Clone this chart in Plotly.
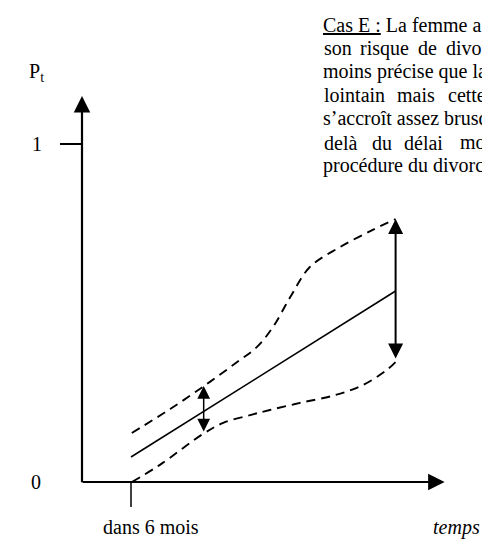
import plotly.graph_objects as go

# mois depuis aujourd'hui, probabilité de divorce P_t
mid_t = [6.0, 38.4]
mid_p = [0.074, 0.565]

up_t = [6.1, 10.8, 15.3, 19.0, 21.4, 23.4, 25.5, 27.9, 31.6, 35.6, 38.4]
up_p = [0.145, 0.216, 0.290, 0.355, 0.399, 0.459, 0.547, 0.636, 0.695, 0.746, 0.778]

low_t = [6.1, 9.5, 14.8, 17.3, 20.6, 23.0, 26.7, 31.0, 34.4, 37.3, 38.4]
low_p = [0.0, 0.050, 0.142, 0.175, 0.198, 0.213, 0.234, 0.257, 0.287, 0.331, 0.355]

# fourchettes d'incertitude (t, bas, haut)
small_band = (14.9, 0.145, 0.284)
big_band = (38.4, 0.361, 0.778)

text_lines = [
    ["<u>Cas E :</u> La femme a"],
    ["son", "risque", "de", "divorce"],
    ["moins précise que la"],
    ["lointain", "mais", "cette"],
    ["s\u2019accroît assez brusquement"],
    ["delà", "du", "délai", "moyen"],
    ["procédure du divorce"],
]
# texte justifié : position des mots (px)
word_x = {
    1: [322, 358, 416, 444],
    3: [322, 395, 446],
    5: [322, 370, 402, 458],
}

W, H = 490, 540
M = 8  # marge du <body> de la page html


def px(x):
    return (x - M) / W


def py(y):
    return 1 - (y - M) / H


serif = "Liberation Serif, Times New Roman, serif"
font = dict(family=serif, size=20, color="black")
dash_line = dict(color="black", width=1.9, dash="9px,6px")

fig = go.Figure()
fig.add_trace(go.Scatter(x=up_t, y=up_p, mode="lines", line=dash_line, line_shape="spline"))
fig.add_trace(go.Scatter(x=low_t, y=low_p, mode="lines", line=dash_line, line_shape="spline"))
fig.add_trace(go.Scatter(x=mid_t, y=mid_p, mode="lines", line=dict(color="black", width=1.6)))

ann = []
# axes avec flèches
ann.append(dict(x=0, y=1.142, ax=0, ay=-0.005, xref="x", yref="y", axref="x", ayref="y",
                showarrow=True, arrowhead=2, arrowsize=1.5, arrowwidth=2.2, arrowcolor="black", text=""))
ann.append(dict(x=44.4, y=0, ax=-0.1, ay=0, xref="x", yref="y", axref="x", ayref="y",
                showarrow=True, arrowhead=2, arrowsize=1.5, arrowwidth=2.2, arrowcolor="black", text=""))
# fourchettes
t, lo, hi = small_band
ann.append(dict(x=t, y=hi, ax=t, ay=lo, xref="x", yref="y", axref="x", ayref="y", showarrow=True,
                arrowhead=2, startarrowhead=2, arrowside="end+start", arrowsize=1.7, startarrowsize=1.7,
                arrowwidth=1.5, arrowcolor="black", text=""))
t, lo, hi = big_band
ann.append(dict(x=t, y=hi, ax=t, ay=lo, xref="x", yref="y", axref="x", ayref="y", showarrow=True,
                arrowhead=2, startarrowhead=2, arrowside="end+start", arrowsize=1.5, startarrowsize=1.5,
                arrowwidth=2, arrowcolor="black", text=""))


def label(text, x, y, xanchor="center", **kw):
    return dict(x=px(x), y=py(y), xref="paper", yref="paper", xanchor=xanchor, yanchor="middle",
                text=text, showarrow=False, font=dict(font, **kw))


# étiquettes des axes
ann.append(label("1", 37, 144))
ann.append(label("0", 36, 482))
ann.append(label("P<sub>t</sub>", 36, 73))
ann.append(label("dans 6 mois", 101, 527, xanchor="left"))
ann.append(label("temps", 431, 527, xanchor="left", style="italic"))

# texte explicatif (coupé à droite comme dans l'original)
for i, words in enumerate(text_lines):
    xs = word_x.get(i, [321])
    for w, xp in zip(words, xs):
        ann.append(label(w, xp, 25 + i * 23.5, xanchor="left"))

shapes = [
    dict(type="line", xref="x", yref="y", x0=-2.7, x1=0, y0=1, y1=1, line=dict(color="black", width=2)),
    dict(type="line", xref="x", yref="y", x0=6.0, x1=6.0, y0=0, y1=-0.074, line=dict(color="black", width=1.5)),
]

# échelle : 8.1667 px par mois, 338 px par unité de P ; origine à (82, 482) dans la fenêtre
sx, sy = 8.1667, 338
x0_px, y0_px = 82 - M, 482 - M

fig.update_layout(
    width=W, height=H,
    margin=dict(l=0, r=0, t=0, b=0),
    paper_bgcolor="white", plot_bgcolor="white",
    showlegend=False,
    xaxis=dict(range=[-x0_px / sx, (W - x0_px) / sx], visible=False, fixedrange=True),
    yaxis=dict(range=[(y0_px - H) / sy, y0_px / sy], visible=False, fixedrange=True),
    annotations=ann, shapes=shapes,
)

fig.write_html("out.html")
